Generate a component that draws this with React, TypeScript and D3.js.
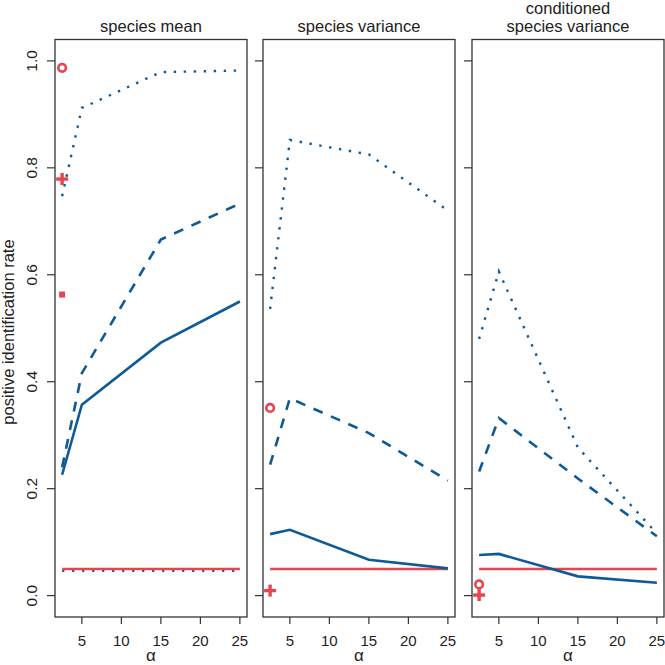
import React from "react";
import * as d3 from "d3";

const alphas = [2.5, 5, 15, 25];
const xTicks = [5, 10, 15, 20, 25];
const yTicks = [0, 0.2, 0.4, 0.6, 0.8, 1.0];
const yTickLabels = ["0.0", "0.2", "0.4", "0.6", "0.8", "1.0"];

const panelTitles = [["species mean"], ["species variance"], ["conditioned", "species variance"]];

const meanSolid = [0.226, 0.357, 0.473, 0.55];
const meanDashed = [0.24, 0.416, 0.666, 0.733];
const meanDotted = [0.747, 0.912, 0.979, 0.982];
const varSolid = [0.115, 0.123, 0.067, 0.051];
const varDashed = [0.245, 0.369, 0.304, 0.215];
const varDotted = [0.536, 0.852, 0.825, 0.72];
const condSolid = [0.076, 0.078, 0.036, 0.024];
const condDashed = [0.232, 0.332, 0.219, 0.111];
const condDotted = [0.48, 0.606, 0.277, 0.116];

const nominalLevel = 0.05;
const meanNullDotted = 0.046;

// markers at alpha = 2.5: [circle, plus, square]
const markerAlpha = 2.5;
const circleVals = [0.987, 0.351, 0.021];
const plusVals = [0.779, 0.0094, 0.001];
const squareVals = [0.563, null, null];

const BLUE = "#0D5A97";
const RED = "#E8434F";
const AXIS = "#333333";
const FONT = "'Liberation Sans', Arial, Helvetica, sans-serif";

const solidSeries = [meanSolid, varSolid, condSolid];
const dashedSeries = [meanDashed, varDashed, condDashed];
const dottedSeries = [meanDotted, varDotted, condDotted];

export default function App() {
  const W = 665, H = 665;
  const top = 39.5, bottom = 617;
  const panelLefts = [55, 263, 472];
  const panelW = 192;

  const y = d3.scaleLinear().domain([-0.04, 1.04]).range([bottom, top]);

  return (
    <svg width={W} height={H} style={{ position: "absolute", left: 0, top: 0, background: "#fff" }} fontFamily={FONT}>
      {panelLefts.map((left, pi) => {
        const x = d3.scaleLinear().domain([1.6, 25.9]).range([left, left + panelW]);
        const line = d3.line<number>().x((_, i) => x(alphas[i])).y((v) => y(v));
        const cx = left + panelW / 2;
        const titles = panelTitles[pi];
        return (
          <g key={pi}>
            {titles.map((t, ti) => (
              <text key={ti} x={cx} y={31.5 - (titles.length - 1 - ti) * 17.5} textAnchor="middle" fontSize={16.5} fill="#222">{t}</text>
            ))}
            {/* y ticks */}
            {yTicks.map((v, i) => (
              <g key={i}>
                <line x1={left - 8} x2={left} y1={y(v)} y2={y(v)} stroke={AXIS} strokeWidth={1.2} />
                {pi === 0 && (
                  <text transform={`translate(37,${y(v)}) rotate(-90)`} textAnchor="middle" fontSize={15.5} fill="#222">{yTickLabels[i]}</text>
                )}
              </g>
            ))}
            {/* x ticks */}
            {xTicks.map((v, i) => (
              <g key={i}>
                <line x1={x(v)} x2={x(v)} y1={bottom} y2={bottom + 7} stroke={AXIS} strokeWidth={1.2} />
                <text x={x(v)} y={646} textAnchor="middle" fontSize={15} fill="#222">{v}</text>
              </g>
            ))}
            <text x={cx} y={661} textAnchor="middle" fontSize={17} fill="#222">α</text>

            {/* series */}
            {pi === 0 && (
              <line x1={x(alphas[0])} x2={x(alphas[3])} y1={y(meanNullDotted)} y2={y(meanNullDotted)} stroke={BLUE} strokeWidth={2.2} strokeDasharray="2.2,7.8" />
            )}
            <line x1={x(alphas[0])} x2={x(alphas[3])} y1={y(nominalLevel)} y2={y(nominalLevel)} stroke={RED} strokeWidth={2.5} />
            <path d={line(solidSeries[pi]) || ""} fill="none" stroke={BLUE} strokeWidth={2.6} />
            <path d={line(dashedSeries[pi]) || ""} fill="none" stroke={BLUE} strokeWidth={2.6} strokeDasharray="10,9" />
            <path d={line(dottedSeries[pi]) || ""} fill="none" stroke={BLUE} strokeWidth={2.4} strokeDasharray="2.4,7.6" />

            {/* markers */}
            <circle cx={x(markerAlpha)} cy={y(circleVals[pi])} r={3.8} fill="none" stroke={RED} strokeWidth={2.6} />
            <g transform={`translate(${x(markerAlpha)},${y(plusVals[pi])})`}>
              <line x1={-6} x2={6} y1={0} y2={0} stroke={RED} strokeWidth={3.4} />
              <line x1={0} x2={0} y1={-6} y2={6} stroke={RED} strokeWidth={3.4} />
            </g>
            {squareVals[pi] !== null && (
              <rect x={x(markerAlpha) - 3} y={y(squareVals[pi] as number) - 3} width={6} height={6} fill={RED} />
            )}

            {/* box */}
            <rect x={left} y={top} width={panelW} height={bottom - top} fill="none" stroke={AXIS} strokeWidth={1.3} />
          </g>
        );
      })}
      <text transform={`translate(14,332) rotate(-90)`} textAnchor="middle" fontSize={16.5} fill="#222">positive identification rate</text>
    </svg>
  );
}
